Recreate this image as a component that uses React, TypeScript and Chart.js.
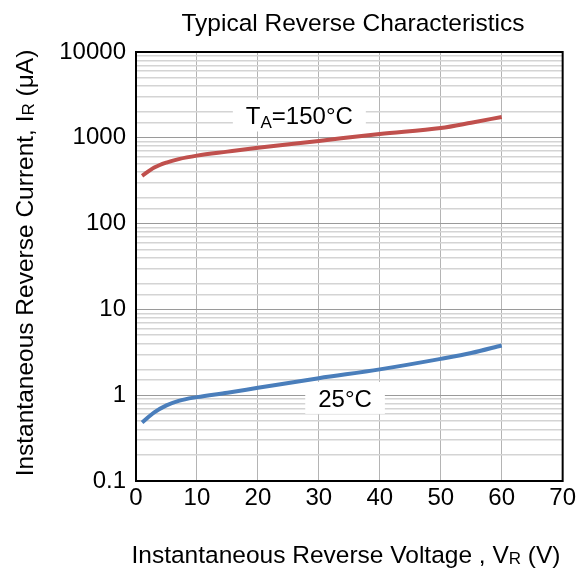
import React, { useEffect, useRef } from "react";
import { Chart, registerables } from "chart.js";

Chart.register(...registerables);

const voltage = [1, 3, 5, 7, 10, 15, 20, 30, 40, 50, 55, 60];
const current150 = [360, 450, 515, 565, 620, 690, 765, 920, 1110, 1300, 1500, 1750];
const current25 = [0.48, 0.63, 0.76, 0.86, 0.95, 1.07, 1.22, 1.58, 2.0, 2.65, 3.1, 3.8];
const xTicks = [0, 10, 20, 30, 40, 50, 60, 70];
const yDecades = [0.1, 1, 10, 100, 1000, 10000];
const label150 = { x: 26.8, y: 1820 };
const label25 = { x: 34.3, y: 0.93 };

const FONT = "'Liberation Sans', Arial, sans-serif";

function isDecade(v: number) {
  if (!v || v <= 0) return false;
  const l = Math.log10(v);
  return Math.abs(l - Math.round(l)) < 1e-6;
}

type Seg = { t: string; size: number; dy?: number };

function segWidth(ctx: CanvasRenderingContext2D, segs: Seg[]) {
  let w = 0;
  for (const s of segs) {
    ctx.font = `${s.size}px ${FONT}`;
    w += ctx.measureText(s.t).width;
  }
  return w;
}

// draws text centred horizontally at cx with alphabetic baseline at by
function drawSegs(ctx: CanvasRenderingContext2D, segs: Seg[], cx: number, by: number) {
  const w = segWidth(ctx, segs);
  let x = cx - w / 2;
  ctx.textAlign = "left";
  ctx.textBaseline = "alphabetic";
  ctx.fillStyle = "#000";
  for (const s of segs) {
    ctx.font = `${s.size}px ${FONT}`;
    ctx.fillText(s.t, x, by + (s.dy || 0));
    x += ctx.measureText(s.t).width;
  }
}

const decorPlugin = {
  id: "decor",
  beforeDatasetsDraw(chart: any) {
    const ctx = chart.ctx as CanvasRenderingContext2D;
    const xs = chart.scales.x;
    const ys = chart.scales.y;
    const boxes = [
      { p: label150, segs: [{ t: "T", size: 24 }, { t: "A", size: 17, dy: 4 }, { t: "=150°C", size: 24 }] as Seg[] },
      { p: label25, segs: [{ t: "25°C", size: 24 }] as Seg[] },
    ];
    ctx.save();
    for (const b of boxes) {
      const cx = xs.getPixelForValue(b.p.x);
      const cy = ys.getPixelForValue(b.p.y);
      const w = segWidth(ctx, b.segs) + 26;
      const h = 32;
      ctx.fillStyle = "#fff";
      ctx.fillRect(cx - w / 2, cy - h / 2, w, h);
      drawSegs(ctx, b.segs, cx, cy + 9);
    }
    ctx.restore();
  },
  afterDraw(chart: any) {
    const ctx = chart.ctx as CanvasRenderingContext2D;
    const a = chart.chartArea;
    ctx.save();
    ctx.strokeStyle = "#000";
    ctx.lineWidth = 2;
    ctx.strokeRect(a.left, a.top, a.right - a.left, a.bottom - a.top);
    drawSegs(ctx, [{ t: "Typical Reverse Characteristics", size: 24.5 }], 353, 31);
    drawSegs(
      ctx,
      [
        { t: "Instantaneous Reverse Voltage , V", size: 24.5 },
        { t: "R", size: 17, dy: 1 },
        { t: " (V)", size: 24.5 },
      ],
      346,
      563
    );
    ctx.translate(33, 263);
    ctx.rotate(-Math.PI / 2);
    drawSegs(
      ctx,
      [
        { t: "Instantaneous Reverse Current, I", size: 24.5 },
        { t: "R", size: 17, dy: 1 },
        { t: " (μA)", size: 24.5 },
      ],
      0,
      0
    );
    ctx.restore();
  },
};

export default function App() {
  const ref = useRef<HTMLCanvasElement>(null);
  useEffect(() => {
    if (!ref.current) return;
    const chart = new Chart(ref.current, {
      type: "line",
      data: {
        datasets: [
          {
            label: "TA=150°C",
            data: voltage.map((v, i) => ({ x: v, y: current150[i] })),
            borderColor: "#c0504d",
            borderWidth: 4,
            pointRadius: 0,
            cubicInterpolationMode: "monotone",
            fill: false,
          },
          {
            label: "25°C",
            data: voltage.map((v, i) => ({ x: v, y: current25[i] })),
            borderColor: "#4a7ebb",
            borderWidth: 4,
            pointRadius: 0,
            cubicInterpolationMode: "monotone",
            fill: false,
          },
        ],
      },
      options: {
        animation: false,
        responsive: false,
        layout: { padding: { left: 0, top: 52, right: 14, bottom: 0 } },
        plugins: { legend: { display: false }, tooltip: { enabled: false }, title: { display: false } },
        scales: {
          x: {
            type: "linear",
            min: xTicks[0],
            max: xTicks[xTicks.length - 1],
            afterFit: (s: any) => {
              s.height = 87;
            },
            afterBuildTicks: (s: any) => {
              s.ticks = xTicks.map((v) => ({ value: v }));
            },
            ticks: { color: "#000", font: { family: FONT, size: 24 }, padding: 3, maxRotation: 0 },
            grid: { color: "#b4b4b4", lineWidth: 1, drawTicks: false },
            border: { display: false },
          },
          y: {
            type: "logarithmic",
            min: yDecades[0],
            max: yDecades[yDecades.length - 1],
            afterFit: (s: any) => {
              s.width = 136;
            },
            ticks: {
              autoSkip: false,
              color: "#000",
              font: { family: FONT, size: 24 },
              padding: 10,
              callback: (v: any) => {
                const n = Number(v);
                if (!isDecade(n)) return "";
                const d = yDecades.find((q) => Math.abs(Math.log10(q) - Math.log10(n)) < 1e-6);
                return d !== undefined ? String(d) : "";
              },
            },
            grid: {
              color: (c: any) => (isDecade(c.tick?.value) ? "#9a9a9a" : "#d4d4d4"),
              lineWidth: (c: any) => (isDecade(c.tick?.value) ? 1 : 1.5),
              drawTicks: false,
            },
            border: { display: false },
          },
        },
      } as any,
      plugins: [decorPlugin],
    });
    return () => chart.destroy();
  }, []);
  return (
    <div style={{ position: "absolute", left: 0, top: 0, width: 579, height: 568, background: "#fff" }}>
      <canvas ref={ref} width={579} height={568} style={{ width: 579, height: 568 }} />
    </div>
  );
}
